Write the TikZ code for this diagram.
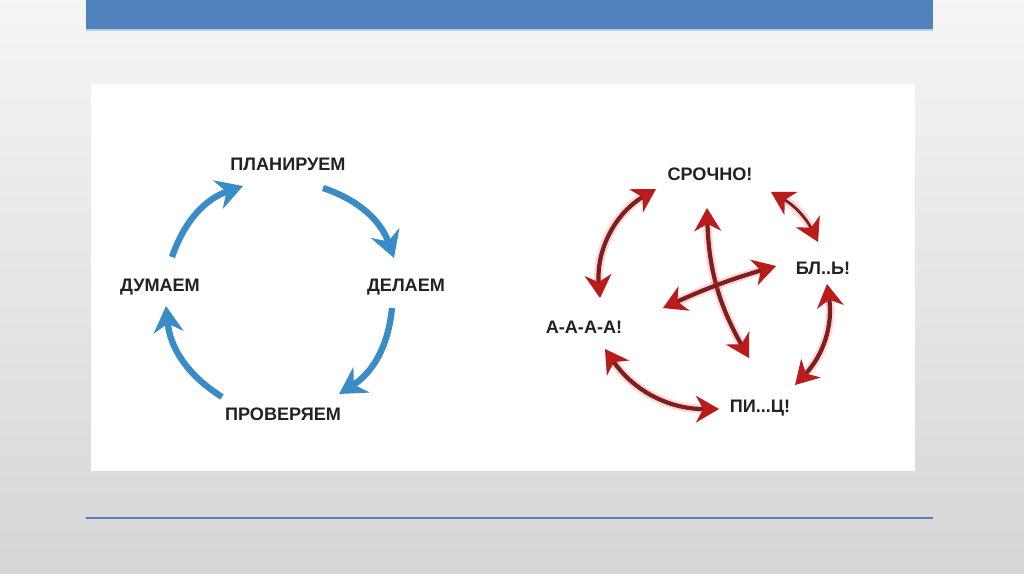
\documentclass[tikz,border=0pt]{standalone}
\usepackage{fontspec}
\setmainfont{Liberation Sans}
\usepackage{tikz}
\usetikzlibrary{arrows.meta,calc}

\definecolor{barblue}{HTML}{4F81BD}
\definecolor{cycblue}{HTML}{3A8CC6}
\definecolor{darkred}{HTML}{7E1F1F}
\definecolor{tipred}{HTML}{BA1C1C}
\definecolor{labelgray}{HTML}{222222}

\tikzset{
  word/.style={font=\fontsize{10.3}{12}\selectfont\bfseries, text=labelgray, inner sep=1pt},
  bluearc/.style={cycblue, line width=3.6pt,
    -{Stealth[length=15pt,width=17pt,inset=5pt]}},
  redarc/.style={darkred, line width=2.4pt,
    {Stealth[length=13pt,width=15pt,inset=4pt,color=tipred]}-{Stealth[length=13pt,width=15pt,inset=4pt,color=tipred]},
    preaction={draw=red!70, line width=5pt, opacity=0.22}},
}

\begin{document}
\begin{tikzpicture}[x=0.02cm, y=-0.02cm]
        \useasboundingbox (0,0) rectangle (1024,574);
        % Background
        \shade[top color=black!4, bottom color=black!16] (0,0) rectangle (1024,574);
        \fill[barblue] (86,0) rectangle (933,30);
        \draw[barblue!40, line width=0.6pt] (86,30) -- (933,30);
        \fill[white] (91,84) rectangle (915,471);
        \draw[barblue, line width=1.3pt] (86,518) -- (933,518);
        % Left cycle: labels
        \node[word] (plan) at (288,164) {ПЛАНИРУЕМ};
        \node[word] (do) at (406,287) {ДЕЛАЕМ};
        \node[word] (check) at (283,414) {ПРОВЕРЯЕМ};
        \node[word] (think) at (160,287) {ДУМАЕМ};
        % Left cycle: arrow ends
        \coordinate (think-out) at (172,257);
        \coordinate (plan-in) at (243,186);
        \coordinate (plan-out) at (323,188);
        \coordinate (do-in) at (394,258);
        \coordinate (do-out) at (392,308);
        \coordinate (check-in) at (339,394);
        \coordinate (check-out) at (222,397);
        \coordinate (think-in) at (166,306);
        \draw[bluearc] (think-out) to[bend left=26] (plan-in);
        \draw[bluearc] (plan-out) to[bend left=26] (do-in);
        \draw[bluearc] (do-out) to[bend left=26] (check-in);
        \draw[bluearc] (check-out) to[bend left=26] (think-in);
        % Right chaos: labels
        \node[word] (urgent) at (710,174) {СРОЧНО!};
        \node[word] (swear) at (823,268) {БЛ..Ь!};
        \node[word] (panic) at (584,327) {А-А-А-А!};
        \node[word] (pizza) at (760,408) {ПИ...Ц!};
        % Right chaos: arrow ends
        \coordinate (panic-a) at (600,298);
        \coordinate (urgent-a) at (656,189);
        \coordinate (urgent-b) at (771,192);
        \coordinate (swear-a) at (818,242);
        \coordinate (swear-b) at (827,284);
        \coordinate (pizza-a) at (795,385);
        \coordinate (pizza-b) at (719,409);
        \coordinate (panic-b) at (605,349);
        \coordinate (top) at (707,208);
        \coordinate (bottom) at (749,358);
        \coordinate (left) at (663,308);
        \coordinate (right) at (776,266);
        \draw[redarc] (panic-a) to[bend left=32] (urgent-a);
        \draw[redarc, line width=1.6pt] (urgent-b) to[bend left=17] (swear-a);
        \draw[redarc] (swear-b) to[bend left=26] (pizza-a);
        \draw[redarc] (pizza-b) to[bend left=28] (panic-b);
        \draw[redarc] (top) to[bend right=14] (bottom);
        \draw[redarc] (left) to[bend left=4] (right);
      \end{tikzpicture}
\end{document}
